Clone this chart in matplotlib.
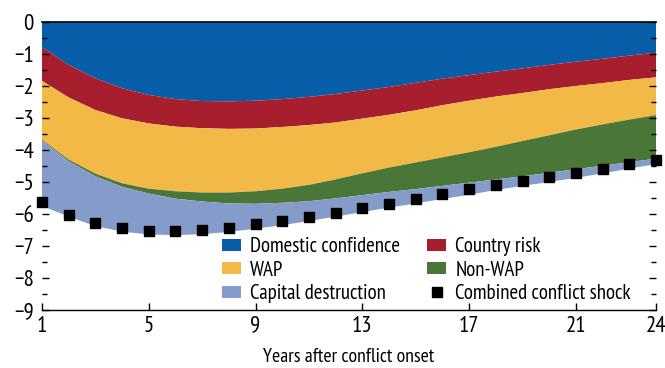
import matplotlib
matplotlib.use("Agg")
import matplotlib.pyplot as plt
from matplotlib.patches import Patch
from matplotlib.lines import Line2D

plt.rcParams['font.family'] = ['PT Sans Narrow', 'DejaVu Sans']

years = list(range(1, 25))

# Contributions to the output loss (percent), stacked downward
domestic_confidence = [-0.79, -1.34, -1.76, -2.07, -2.28, -2.41, -2.47, -2.48,
                       -2.46, -2.41, -2.34, -2.25, -2.14, -2.03, -1.90, -1.77,
                       -1.66, -1.55, -1.45, -1.34, -1.24, -1.15, -1.05, -0.96]
country_risk = [-1.05, -1.02, -0.99, -0.94, -0.89, -0.86, -0.85, -0.86,
                -0.87, -0.87, -0.88, -0.89, -0.88, -0.87, -0.86, -0.83,
                -0.80, -0.78, -0.77, -0.76, -0.76, -0.76, -0.76, -0.77]
wap = [-1.84, -1.94, -1.99, -2.03, -2.04, -2.02, -2.01, -1.99,
       -1.96, -1.93, -1.87, -1.78, -1.71, -1.65, -1.63, -1.63,
       -1.61, -1.57, -1.50, -1.44, -1.36, -1.29, -1.24, -1.18]
non_wap = [-0.03, -0.05, -0.08, -0.11, -0.15, -0.23, -0.28, -0.34,
           -0.39, -0.44, -0.51, -0.59, -0.68, -0.76, -0.83, -0.89,
           -0.95, -1.02, -1.10, -1.17, -1.24, -1.29, -1.33, -1.36]
capital_destruction = [-2.04, -1.73, -1.56, -1.40, -1.28, -1.14, -1.02, -0.89,
                       -0.78, -0.70, -0.62, -0.57, -0.53, -0.49, -0.45, -0.41,
                       -0.38, -0.33, -0.30, -0.29, -0.27, -0.24, -0.20, -0.17]
combined_shock = [-5.62, -6.03, -6.27, -6.43, -6.52, -6.52, -6.49, -6.43,
                  -6.32, -6.21, -6.08, -5.96, -5.80, -5.68, -5.52, -5.37,
                  -5.22, -5.08, -4.96, -4.84, -4.72, -4.58, -4.43, -4.30]

labels = ["Domestic confidence", "Country risk", "WAP", "Non-WAP",
          "Capital destruction"]
colors = ["#075DA8", "#A71F2F", "#F2B947", "#4A7637", "#859CCB"]

fig = plt.figure(figsize=(6.65, 3.68), dpi=100)
ax = fig.add_axes([42 / 665, 1 - 310 / 368, (656 - 42) / 665, (310 - 22) / 368])

ax.stackplot(years, domestic_confidence, country_risk, wap, non_wap,
             capital_destruction, colors=colors, linewidth=0)
ax.plot(years, combined_shock, linestyle="none", marker="s", markersize=7.2,
        color="black", clip_on=False, zorder=5)

ax.set_xlim(1, 24)
ax.set_ylim(-9, 0)
ax.set_xticks([1, 5, 9, 13, 17, 21, 24])
ax.set_yticks(range(-9, 1))
ax.set_yticks([v + 0.5 for v in range(-9, 0)], minor=True)

for s in ("left", "right"):
    ax.spines[s].set_visible(False)
ax.spines["top"].set_color("black")
ax.spines["top"].set_linewidth(1.2)
ax.spines["top"].set_zorder(6)
ax.spines["bottom"].set_linewidth(1.0)

ax.tick_params(axis="y", which="major", direction="in", length=5, width=1.0,
               left=True, right=True, labelsize=16.5, pad=6)
ax.tick_params(axis="y", which="minor", direction="in", length=3.5, width=1.0,
               left=True, right=True)
ax.tick_params(axis="x", which="major", direction="in", length=5, width=1.0,
               labelsize=16.5, pad=4)

ax.set_xlabel("Years after conflict onset", fontsize=14.3, labelpad=8)

handles = [Patch(facecolor=c, edgecolor="none") for c in colors]
marker_handle = Line2D([], [], linestyle="none", marker="s", markersize=7.2,
                       color="black")
order_h = [handles[0], handles[2], handles[4], handles[1], handles[3], marker_handle]
order_l = [labels[0], labels[2], labels[4], labels[1], labels[3],
           "Combined conflict shock"]
fig.legend(order_h, order_l, loc="upper left",
           bbox_to_anchor=(222 / 665, 1 - 237 / 368), ncol=2, frameon=False,
           fontsize=15, handlelength=0.9, handleheight=0.5, handletextpad=0.45,
           columnspacing=1.3, labelspacing=0.22, borderpad=0, borderaxespad=0)

fig.savefig("out.png", dpi=100)
